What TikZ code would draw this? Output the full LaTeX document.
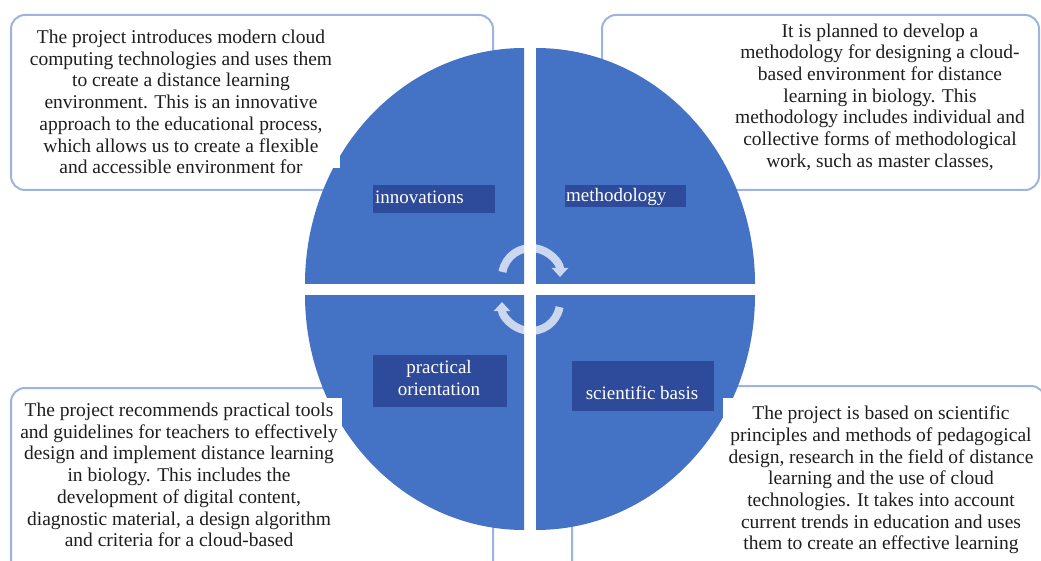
\documentclass[tikz,border=0pt]{standalone}
\usepackage{fontspec}
\setmainfont{Liberation Serif}
\usetikzlibrary{arrows.meta}
\definecolor{quad}{HTML}{4472C4}
\definecolor{lab}{HTML}{2E4A9A}
\definecolor{frame}{HTML}{9DB4DE}
\definecolor{txt}{HTML}{1E1E1E}
\begin{document}
\begin{tikzpicture}[x=1pt,y=-1pt,
  outbox/.style={draw=frame, line width=2pt, rounded corners=14pt, fill=white},
  cover/.style={fill=white},
  body/.style={text=txt, align=center, font=\fontsize{19.5}{21.7}\selectfont, inner sep=0pt},
  labbox/.style={fill=lab, inner sep=0pt},
  labtext/.style={text=white, align=center, font=\fontsize{19}{21}\selectfont, inner sep=0pt},
  quadrant/.style={fill=quad},
  cyc/.style={line width=8pt, draw=white, -{Triangle[width=16pt,length=9pt]}}
]
\useasboundingbox (0,0) rectangle (1041,561);
\begin{scope}
\clip (0,0) rectangle (1041,561);
% outline boxes
\draw[outbox] (11,15) rectangle (493,190);
\draw[outbox] (602,15) rectangle (1039,190);
\draw[outbox] (11,388) rectangle (493,580);
\draw[outbox] (572,386) rectangle (1045,580);
% quadrants
\fill[quadrant] (524,284) -- (305,284) arc[start angle=180, end angle=270, x radius=219, y radius=236] -- cycle;
\fill[quadrant] (536,284) -- (536,48) arc[start angle=270, end angle=360, x radius=219, y radius=236] -- cycle;
\fill[quadrant] (536,295) -- (755,295) arc[start angle=0, end angle=90, x radius=219, y radius=235] -- cycle;
\fill[quadrant] (524,295) -- (524,530) arc[start angle=90, end angle=180, x radius=219, y radius=235] -- cycle;
% cycle arrows
\begin{scope}[transparency group, opacity=0.72]
\draw[cyc] (531,277) ++(190:29) arc[start angle=190, end angle=360, radius=29];
\draw[cyc] (531,302) ++(10:29) arc[start angle=10, end angle=180, radius=29];
\end{scope}
% label boxes
\node[labbox, anchor=north west, minimum width=122pt, minimum height=28pt] (bInn) at (373,185) {};
\node[labtext, anchor=west] (tInn) at (375,197) {innovations};
\node[labbox, anchor=north west, minimum width=121pt, minimum height=22pt] (bMet) at (565,185) {};
\node[labtext, anchor=west] (tMet) at (566,197) {methodology};
\node[labbox, anchor=north west, minimum width=134pt, minimum height=52pt] (bPra) at (373,355) {};
\node[labtext] (tPra) at (439,378) {practical\\orientation};
\node[labbox, anchor=north west, minimum width=142pt, minimum height=50pt] (bSci) at (572,361) {};
\node[labtext] (tSci) at (642,393) {scientific basis};
% white text areas
\fill[cover] (20,20) rectangle (340,168);
\fill[cover] (20,398) rectangle (342,556);
\fill[cover] (723,398) rectangle (1035,556);
% texts
\node[body] (pInn) at (181,102) {The project introduces modern cloud\\computing technologies and uses them\\to create a distance learning\\environment. This is an innovative\\approach to the educational process,\\which allows us to create a flexible\\and accessible environment for};
\node[body] (pMet) at (880,97) {It is planned to develop a\\methodology for designing a cloud-\\based environment for distance\\learning in biology. This\\methodology includes individual and\\collective forms of methodological\\work, such as master classes,};
\node[body] (pPra) at (179,475) {The project recommends practical tools\\and guidelines for teachers to effectively\\design and implement distance learning\\in biology. This includes the\\development of digital content,\\diagnostic material, a design algorithm\\and criteria for a cloud-based};
\node[body] (pSci) at (881,480) {The project is based on scientific\\principles and methods of pedagogical\\design, research in the field of distance\\learning and the use of cloud\\technologies. It takes into account\\current trends in education and uses\\them to create an effective learning};
\end{scope}
\end{tikzpicture}
\end{document}
